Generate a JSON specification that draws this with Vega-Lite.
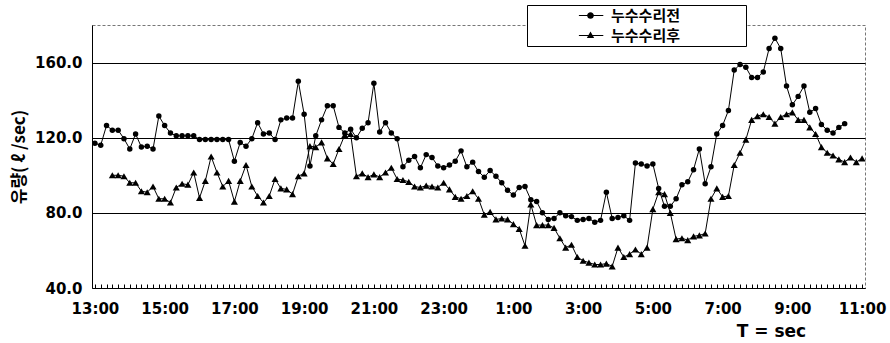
{
  "$schema": "https://vega.github.io/schema/vega-lite/v6.json",
  "width": 773,
  "height": 263,
  "autosize": {"type": "none"},
  "padding": {"left": 92, "top": 25, "right": 25, "bottom": 55},
  "background": "white",
  "config": {
    "view": {"stroke": "#777", "strokeDash": [3, 2], "strokeWidth": 1},
    "font": "DejaVu Sans"
  },
  "data": {"values": [
    {"s":"누수수리전","m":0,"v":117},{"s":"누수수리전","m":10,"v":116},{"s":"누수수리전","m":20,"v":126.5},{"s":"누수수리전","m":30,"v":124},{"s":"누수수리전","m":40,"v":124},{"s":"누수수리전","m":50,"v":119.5},{"s":"누수수리전","m":60,"v":114},{"s":"누수수리전","m":70,"v":122},{"s":"누수수리전","m":80,"v":115},{"s":"누수수리전","m":90,"v":115.5},
    {"s":"누수수리전","m":100,"v":114},{"s":"누수수리전","m":110,"v":131.5},{"s":"누수수리전","m":120,"v":126.5},{"s":"누수수리전","m":130,"v":122.5},{"s":"누수수리전","m":140,"v":121},{"s":"누수수리전","m":150,"v":121},{"s":"누수수리전","m":160,"v":121},{"s":"누수수리전","m":170,"v":121},{"s":"누수수리전","m":180,"v":119},{"s":"누수수리전","m":190,"v":119},
    {"s":"누수수리전","m":200,"v":119},{"s":"누수수리전","m":210,"v":119},{"s":"누수수리전","m":220,"v":119},{"s":"누수수리전","m":230,"v":119},{"s":"누수수리전","m":240,"v":107.5},{"s":"누수수리전","m":250,"v":117.5},{"s":"누수수리전","m":260,"v":115.5},{"s":"누수수리전","m":270,"v":119.5},{"s":"누수수리전","m":280,"v":128},{"s":"누수수리전","m":290,"v":122},
    {"s":"누수수리전","m":300,"v":122.5},{"s":"누수수리전","m":310,"v":119},{"s":"누수수리전","m":320,"v":129.5},{"s":"누수수리전","m":330,"v":130.5},{"s":"누수수리전","m":340,"v":130.5},{"s":"누수수리전","m":350,"v":150},{"s":"누수수리전","m":360,"v":132.5},{"s":"누수수리전","m":370,"v":105},{"s":"누수수리전","m":380,"v":121},{"s":"누수수리전","m":390,"v":129.5},
    {"s":"누수수리전","m":400,"v":137},{"s":"누수수리전","m":410,"v":137},{"s":"누수수리전","m":420,"v":125.5},{"s":"누수수리전","m":430,"v":122.5},{"s":"누수수리전","m":440,"v":124.5},{"s":"누수수리전","m":450,"v":120},{"s":"누수수리전","m":460,"v":125},{"s":"누수수리전","m":470,"v":128},{"s":"누수수리전","m":480,"v":149},{"s":"누수수리전","m":490,"v":123},
    {"s":"누수수리전","m":500,"v":128},{"s":"누수수리전","m":510,"v":122.5},{"s":"누수수리전","m":520,"v":119.5},{"s":"누수수리전","m":530,"v":104.5},{"s":"누수수리전","m":540,"v":108},{"s":"누수수리전","m":550,"v":110},{"s":"누수수리전","m":560,"v":104},{"s":"누수수리전","m":570,"v":111},{"s":"누수수리전","m":580,"v":109.5},{"s":"누수수리전","m":590,"v":105},
    {"s":"누수수리전","m":600,"v":104},{"s":"누수수리전","m":610,"v":105.5},{"s":"누수수리전","m":620,"v":107.5},{"s":"누수수리전","m":630,"v":113},{"s":"누수수리전","m":640,"v":104.5},{"s":"누수수리전","m":650,"v":107},{"s":"누수수리전","m":660,"v":102},{"s":"누수수리전","m":670,"v":99},{"s":"누수수리전","m":680,"v":102.5},{"s":"누수수리전","m":690,"v":99.5},
    {"s":"누수수리전","m":700,"v":96},{"s":"누수수리전","m":710,"v":92},{"s":"누수수리전","m":720,"v":89.5},{"s":"누수수리전","m":730,"v":93.5},{"s":"누수수리전","m":740,"v":94},{"s":"누수수리전","m":750,"v":87},{"s":"누수수리전","m":760,"v":86},{"s":"누수수리전","m":770,"v":80},{"s":"누수수리전","m":780,"v":76.5},{"s":"누수수리전","m":790,"v":77},
    {"s":"누수수리전","m":800,"v":80},{"s":"누수수리전","m":810,"v":78.5},{"s":"누수수리전","m":820,"v":78},{"s":"누수수리전","m":830,"v":76},{"s":"누수수리전","m":840,"v":76.5},{"s":"누수수리전","m":850,"v":77},{"s":"누수수리전","m":860,"v":75},{"s":"누수수리전","m":870,"v":76},{"s":"누수수리전","m":880,"v":91},{"s":"누수수리전","m":890,"v":77},
    {"s":"누수수리전","m":900,"v":77.5},{"s":"누수수리전","m":910,"v":78.5},{"s":"누수수리전","m":920,"v":76},{"s":"누수수리전","m":930,"v":106.5},{"s":"누수수리전","m":940,"v":106},{"s":"누수수리전","m":950,"v":105},{"s":"누수수리전","m":960,"v":106},{"s":"누수수리전","m":970,"v":93},{"s":"누수수리전","m":980,"v":83.5},{"s":"누수수리전","m":990,"v":83.5},
    {"s":"누수수리전","m":1000,"v":87.5},{"s":"누수수리전","m":1010,"v":95},{"s":"누수수리전","m":1020,"v":96.5},{"s":"누수수리전","m":1030,"v":103},{"s":"누수수리전","m":1040,"v":114},{"s":"누수수리전","m":1050,"v":95.5},{"s":"누수수리전","m":1060,"v":104.5},{"s":"누수수리전","m":1070,"v":122},{"s":"누수수리전","m":1080,"v":126.5},{"s":"누수수리전","m":1090,"v":134.5},
    {"s":"누수수리전","m":1100,"v":156},{"s":"누수수리전","m":1110,"v":159},{"s":"누수수리전","m":1120,"v":157.5},{"s":"누수수리전","m":1130,"v":152},{"s":"누수수리전","m":1140,"v":152},{"s":"누수수리전","m":1150,"v":155},{"s":"누수수리전","m":1160,"v":167.5},{"s":"누수수리전","m":1170,"v":173},{"s":"누수수리전","m":1180,"v":167.5},{"s":"누수수리전","m":1190,"v":147.5},
    {"s":"누수수리전","m":1200,"v":137.5},{"s":"누수수리전","m":1210,"v":142},{"s":"누수수리전","m":1220,"v":147.5},{"s":"누수수리전","m":1230,"v":133.5},{"s":"누수수리전","m":1240,"v":135.5},{"s":"누수수리전","m":1250,"v":127},{"s":"누수수리전","m":1260,"v":124},{"s":"누수수리전","m":1270,"v":122.5},{"s":"누수수리전","m":1280,"v":125.5},{"s":"누수수리전","m":1290,"v":127.5},

    {"s":"누수수리후","m":30,"v":100},{"s":"누수수리후","m":40,"v":100},{"s":"누수수리후","m":50,"v":99.5},{"s":"누수수리후","m":60,"v":96},{"s":"누수수리후","m":70,"v":96},{"s":"누수수리후","m":80,"v":91.5},{"s":"누수수리후","m":90,"v":91},
    {"s":"누수수리후","m":100,"v":94},{"s":"누수수리후","m":110,"v":87.5},{"s":"누수수리후","m":120,"v":87.5},{"s":"누수수리후","m":130,"v":85.5},{"s":"누수수리후","m":140,"v":93.5},{"s":"누수수리후","m":150,"v":95.5},{"s":"누수수리후","m":160,"v":95},{"s":"누수수리후","m":170,"v":101.5},{"s":"누수수리후","m":180,"v":88},{"s":"누수수리후","m":190,"v":97},
    {"s":"누수수리후","m":200,"v":110},{"s":"누수수리후","m":210,"v":101.5},{"s":"누수수리후","m":220,"v":94},{"s":"누수수리후","m":230,"v":97},{"s":"누수수리후","m":240,"v":86},{"s":"누수수리후","m":250,"v":97},{"s":"누수수리후","m":260,"v":105.5},{"s":"누수수리후","m":270,"v":94},{"s":"누수수리후","m":280,"v":89},{"s":"누수수리후","m":290,"v":85.5},
    {"s":"누수수리후","m":300,"v":89},{"s":"누수수리후","m":310,"v":98},{"s":"누수수리후","m":320,"v":93},{"s":"누수수리후","m":330,"v":92.5},{"s":"누수수리후","m":340,"v":90},{"s":"누수수리후","m":350,"v":99.5},{"s":"누수수리후","m":360,"v":101},{"s":"누수수리후","m":370,"v":115.5},{"s":"누수수리후","m":380,"v":115},{"s":"누수수리후","m":390,"v":117.5},
    {"s":"누수수리후","m":400,"v":109},{"s":"누수수리후","m":410,"v":106},{"s":"누수수리후","m":420,"v":114},{"s":"누수수리후","m":430,"v":121.5},{"s":"누수수리후","m":440,"v":122},{"s":"누수수리후","m":450,"v":99.5},{"s":"누수수리후","m":460,"v":101},{"s":"누수수리후","m":470,"v":99},{"s":"누수수리후","m":480,"v":100.5},{"s":"누수수리후","m":490,"v":99},
    {"s":"누수수리후","m":500,"v":101.5},{"s":"누수수리후","m":510,"v":104},{"s":"누수수리후","m":520,"v":98},{"s":"누수수리후","m":530,"v":97.5},{"s":"누수수리후","m":540,"v":96.5},{"s":"누수수리후","m":550,"v":94},{"s":"누수수리후","m":560,"v":93.5},{"s":"누수수리후","m":570,"v":94.5},{"s":"누수수리후","m":580,"v":94},{"s":"누수수리후","m":590,"v":93.5},
    {"s":"누수수리후","m":600,"v":96},{"s":"누수수리후","m":610,"v":92.5},{"s":"누수수리후","m":620,"v":88.5},{"s":"누수수리후","m":630,"v":87.5},{"s":"누수수리후","m":640,"v":89},{"s":"누수수리후","m":650,"v":91.5},{"s":"누수수리후","m":660,"v":87.5},{"s":"누수수리후","m":670,"v":79},{"s":"누수수리후","m":680,"v":80.5},{"s":"누수수리후","m":690,"v":76.5},
    {"s":"누수수리후","m":700,"v":77},{"s":"누수수리후","m":710,"v":76.5},{"s":"누수수리후","m":720,"v":74},{"s":"누수수리후","m":730,"v":71.5},{"s":"누수수리후","m":740,"v":62.5},{"s":"누수수리후","m":750,"v":84.5},{"s":"누수수리후","m":760,"v":73.5},{"s":"누수수리후","m":770,"v":73.5},{"s":"누수수리후","m":780,"v":73.5},{"s":"누수수리후","m":790,"v":72},
    {"s":"누수수리후","m":800,"v":66.5},{"s":"누수수리후","m":810,"v":61.5},{"s":"누수수리후","m":820,"v":63},{"s":"누수수리후","m":830,"v":56.5},{"s":"누수수리후","m":840,"v":54.5},{"s":"누수수리후","m":850,"v":53.5},{"s":"누수수리후","m":860,"v":52.5},{"s":"누수수리후","m":870,"v":52.5},{"s":"누수수리후","m":880,"v":53},{"s":"누수수리후","m":890,"v":51.5},
    {"s":"누수수리후","m":900,"v":61.5},{"s":"누수수리후","m":910,"v":56.5},{"s":"누수수리후","m":920,"v":58},{"s":"누수수리후","m":930,"v":60.5},{"s":"누수수리후","m":940,"v":58},{"s":"누수수리후","m":950,"v":61.5},{"s":"누수수리후","m":960,"v":82},{"s":"누수수리후","m":970,"v":91},{"s":"누수수리후","m":980,"v":90},{"s":"누수수리후","m":990,"v":80},
    {"s":"누수수리후","m":1000,"v":66},{"s":"누수수리후","m":1010,"v":66.5},{"s":"누수수리후","m":1020,"v":65.5},{"s":"누수수리후","m":1030,"v":67.5},{"s":"누수수리후","m":1040,"v":68},{"s":"누수수리후","m":1050,"v":69},{"s":"누수수리후","m":1060,"v":87.5},{"s":"누수수리후","m":1070,"v":93},{"s":"누수수리후","m":1080,"v":88.5},{"s":"누수수리후","m":1090,"v":89},
    {"s":"누수수리후","m":1100,"v":105.5},{"s":"누수수리후","m":1110,"v":112},{"s":"누수수리후","m":1120,"v":119},{"s":"누수수리후","m":1130,"v":129.5},{"s":"누수수리후","m":1140,"v":131.5},{"s":"누수수리후","m":1150,"v":132.5},{"s":"누수수리후","m":1160,"v":131},{"s":"누수수리후","m":1170,"v":127.5},{"s":"누수수리후","m":1180,"v":131},{"s":"누수수리후","m":1190,"v":132.5},
    {"s":"누수수리후","m":1200,"v":133.5},{"s":"누수수리후","m":1210,"v":129.5},{"s":"누수수리후","m":1220,"v":129.5},{"s":"누수수리후","m":1230,"v":125.5},{"s":"누수수리후","m":1240,"v":122},{"s":"누수수리후","m":1250,"v":115},{"s":"누수수리후","m":1260,"v":112},{"s":"누수수리후","m":1270,"v":110.5},{"s":"누수수리후","m":1280,"v":108.5},{"s":"누수수리후","m":1290,"v":107},
    {"s":"누수수리후","m":1300,"v":109.5},{"s":"누수수리후","m":1310,"v":107},{"s":"누수수리후","m":1320,"v":109}
  ]},
  "encoding": {
    "x": {
      "field": "m", "type": "quantitative",
      "scale": {"domain": [-5, 1325], "nice": false, "zero": false},
      "axis": {
        "title": "T = sec",
        "values": [0,10,20,30,40,50,60,70,80,90,100,110,120,130,140,150,160,170,180,190,200,210,220,230,240,250,260,270,280,290,300,310,320,330,340,350,360,370,380,390,400,410,420,430,440,450,460,470,480,490,500,510,520,530,540,550,560,570,580,590,600,610,620,630,640,650,660,670,680,690,700,710,720,730,740,750,760,770,780,790,800,810,820,830,840,850,860,870,880,890,900,910,920,930,940,950,960,970,980,990,1000,1010,1020,1030,1040,1050,1060,1070,1080,1090,1100,1110,1120,1130,1140,1150,1160,1170,1180,1190,1200,1210,1220,1230,1240,1250,1260,1270,1280,1290,1300,1310,1320],
        "labelExpr": "datum.value % 120 == 0 ? ((13 + datum.value / 60) % 24) + ':00' : ''",
        "labelOverlap": false,
        "labelFlush": false,
        "labelFont": "DejaVu Sans", "labelFontWeight": "bold", "labelFontSize": 15, "labelColor": "black",
        "labelPadding": 17,
        "ticks": true, "tickSize": -4, "tickColor": "black", "tickWidth": 1,
        "domainColor": "black", "domainWidth": 1,
        "grid": false,
        "titleFont": "DejaVu Sans", "titleFontWeight": "bold", "titleFontSize": 17, "titleColor": "black",
        "titleX": 679, "titleY": 48, "titleAlign": "center", "titleBaseline": "alphabetic"
      }
    },
    "y": {
      "field": "v", "type": "quantitative",
      "scale": {"domain": [40, 180], "nice": false, "zero": false},
      "axis": {
        "title": "유량( ℓ /sec)",
        "values": [40, 80, 120, 160],
        "format": ".1f",
        "grid": true, "gridColor": "black", "gridWidth": 1,
        "ticks": false, "tickSize": 0,
        "labelPadding": 10,
        "labelFont": "DejaVu Sans", "labelFontWeight": "bold", "labelFontSize": 15, "labelColor": "black",
        "domainColor": "black", "domainWidth": 1,
        "titleFont": "Noto Sans CJK KR", "titleFontWeight": "bold", "titleFontSize": 17, "titleColor": "black",
        "titleAngle": 270, "titleX": -68, "titleY": 131.5, "titleAlign": "center", "titleBaseline": "alphabetic"
      }
    }
  },
  "layer": [
    {
      "mark": {"type": "line", "color": "black", "strokeWidth": 1},
      "encoding": {"detail": {"field": "s", "type": "nominal"}}
    },
    {
      "transform": [{"filter": "datum.s == '누수수리전'"}],
      "mark": {"type": "point", "filled": true, "color": "black", "opacity": 1, "shape": "circle", "size": 30},
      "encoding": {}
    },
    {
      "transform": [{"filter": "datum.s == '누수수리후'"}],
      "mark": {"type": "point", "filled": true, "color": "black", "opacity": 1, "shape": "triangle-up", "size": 50},
      "encoding": {}
    },
    {
      "transform": [{"filter": "datum.m == 30"}],
      "mark": {"type": "point", "filled": true, "fill": "black", "stroke": "black", "strokeWidth": 1, "opacity": 0},
      "encoding": {
        "shape": {
          "field": "s", "type": "nominal",
          "scale": {
            "domain": ["누수수리전", "누수수리후"],
            "range": ["M-1.45,-0.065H1.6V0.065H-1.45ZM0.42,0A0.42,0.42,0,1,1,-0.42,0A0.42,0.42,0,1,1,0.42,0Z", "M-1.45,-0.065H1.6V0.065H-1.45ZM0,-0.5L0.46,0.3L-0.46,0.3Z"]
          },
          "legend": {
            "orient": "none", "legendX": 435, "legendY": -20,
            "title": null,
            "padding": 2,
            "strokeColor": "black", "fillColor": "white",
            "rowPadding": 3,
            "symbolOffset": 53,
            "labelOffset": 12,
            "labelLimit": 400,
            "labelFont": "Noto Sans CJK KR", "labelFontSize": 15, "labelFontWeight": "bold", "labelColor": "black",
            "labelExpr": "datum.label + '\u3000\u3000\u3000\u3000\u00a0\u200b'",
            "symbolSize": 256,
            "symbolOpacity": 1,
            "symbolFillColor": "black",
            "symbolStrokeColor": "black",
            "symbolStrokeWidth": 1,
            "encode": {
              "symbols": {
                "stroke": {"value": "black"},
                "strokeWidth": {"value": 1},
                "fill": {"value": "black"}
              },
              "legend": {
                "strokeWidth": {"value": 1.5}
              }
            }
          }
        }
      }
    }
  ]
}
